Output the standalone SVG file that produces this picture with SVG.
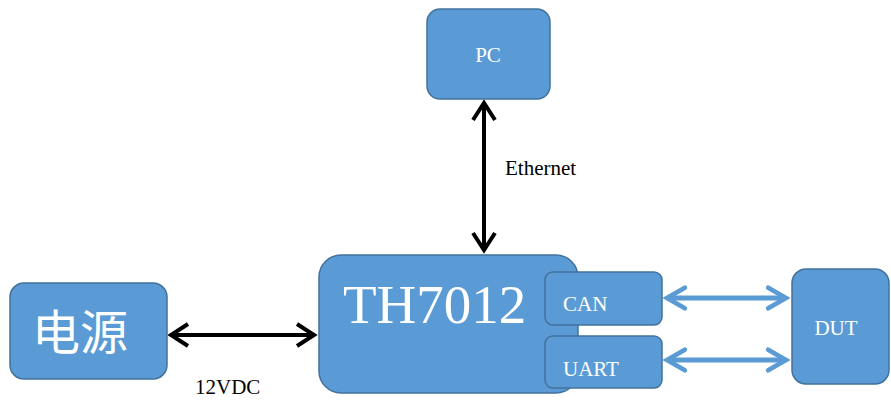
<svg xmlns="http://www.w3.org/2000/svg" width="891" height="403" viewBox="0 0 891 403">
<style>
.box{fill:#5B9BD5;stroke:#41719C;stroke-width:1.5}
.t{fill:#fff;font-family:"Liberation Serif",serif}
.k{fill:#000;font-family:"Liberation Serif",serif;font-size:21px}
.blk{stroke:#000;stroke-width:4;fill:none}
.blu{stroke:#5B9BD5;stroke-width:5;fill:none}
</style>
<defs>
<marker id="ab" markerUnits="userSpaceOnUse" markerWidth="30" markerHeight="30" viewBox="-22 -15 26 30" refX="0" refY="0" orient="auto-start-reverse">
<path d="M-17 -11 L0 0 L-17 11" stroke="#000" stroke-width="4" fill="none"/>
</marker>
<marker id="au" markerUnits="userSpaceOnUse" markerWidth="30" markerHeight="30" viewBox="-24 -16 28 32" refX="0" refY="0" orient="auto-start-reverse">
<path d="M-19 -11 L0 0 L-19 11" stroke="#5B9BD5" stroke-width="5" fill="none" stroke-linecap="round"/>
</marker>
</defs>
<rect width="891" height="403" fill="#fff"/>
<g id="connectors">
<line class="blk" x1="484" y1="103" x2="484" y2="250" marker-start="url(#ab)" marker-end="url(#ab)"/>
<line class="blk" x1="171" y1="335" x2="314" y2="335" marker-start="url(#ab)" marker-end="url(#ab)"/>
<line class="blu" x1="667" y1="298" x2="786" y2="298" marker-start="url(#au)" marker-end="url(#au)"/>
<line class="blu" x1="667" y1="360" x2="786" y2="360" marker-start="url(#au)" marker-end="url(#au)"/>
<text class="k" x="505" y="175">Ethernet</text>
<text class="k" x="195" y="394">12VDC</text>
</g>
<g id="pc">
<rect class="box" x="427" y="9" width="123" height="90" rx="13"/>
<text class="t" x="488" y="62" font-size="21" text-anchor="middle">PC</text>
</g>
<g id="th7012">
<rect class="box" x="319" y="255" width="259" height="138" rx="22"/>
<text class="t" x="343" y="323" font-size="55">TH7012</text>
</g>
<g id="can">
<rect class="box" x="545" y="272" width="117" height="53" rx="8"/>
<text class="t" x="563" y="311" font-size="21">CAN</text>
</g>
<g id="uart">
<rect class="box" x="545" y="336" width="117" height="52" rx="8"/>
<text class="t" x="563" y="376" font-size="21">UART</text>
</g>
<g id="power">
<rect class="box" x="10" y="283" width="157" height="96" rx="14"/>
<text class="t" x="32" y="350" font-size="48" style="font-family:'Noto Sans CJK SC',sans-serif">电源</text>
</g>
<g id="dut">
<rect class="box" x="792" y="269" width="97" height="115" rx="14"/>
<text class="t" x="836" y="335" font-size="21" text-anchor="middle">DUT</text>
</g>
</svg>
